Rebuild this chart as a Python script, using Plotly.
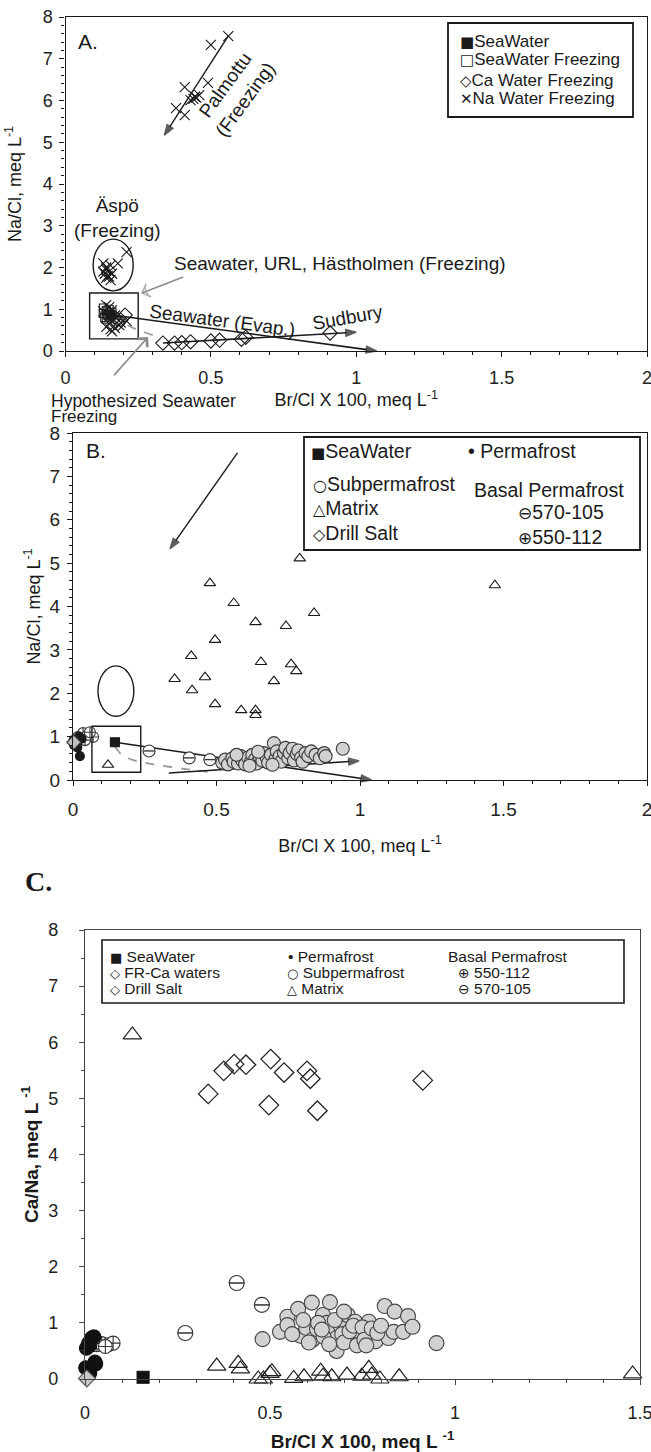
import plotly.graph_objects as go

W, H = 651, 1452
FONT = "Liberation Sans, Arial, Helvetica, sans-serif"
INK = "#1a1a1a"
GRAYFILL = "#d2d2d2"

# ---------------- Panel A : Na/Cl vs Br/Cl (freezing data) ----------------
A_seawater_x = [0.155]
A_seawater_y = [0.87]
A_swfreeze_x = [0.13, 0.14, 0.15, 0.135, 0.145, 0.16, 0.14, 0.15, 0.13]
A_swfreeze_y = [0.90, 0.97, 1.00, 0.80, 0.86, 0.93, 0.76, 0.82, 1.03]
A_cafreeze_x = [0.17, 0.19, 0.205, 0.18, 0.335, 0.375, 0.40, 0.43, 0.50, 0.53, 0.605, 0.62, 0.91]
A_cafreeze_y = [0.80, 0.74, 0.86, 0.66, 0.19, 0.19, 0.20, 0.22, 0.24, 0.26, 0.28, 0.33, 0.43]
A_napalm_x = [0.56, 0.50, 0.41, 0.49, 0.445, 0.43, 0.45, 0.46, 0.38, 0.41, 0.44]
A_napalm_y = [7.54, 7.33, 6.32, 6.42, 6.09, 6.01, 6.07, 6.13, 5.82, 5.65, 6.04]
A_naaspo_x = [0.21, 0.18, 0.155, 0.13, 0.14, 0.15, 0.135, 0.145, 0.14, 0.15, 0.13, 0.16, 0.14, 0.155]
A_naaspo_y = [2.37, 2.10, 2.05, 2.10, 1.95, 1.90, 1.85, 1.80, 1.75, 1.78, 1.90, 1.85, 2.00, 1.70]
A_nabox_x = [0.14, 0.15, 0.16, 0.13, 0.17, 0.16, 0.15, 0.14, 0.155, 0.16, 0.17, 0.185, 0.21, 0.19]
A_nabox_y = [1.10, 1.05, 0.98, 0.95, 0.85, 0.72, 0.65, 0.58, 0.52, 0.47, 0.55, 0.62, 0.72, 0.68]
A_hyp_x = [0.16, 0.19, 0.25, 0.325]
A_hyp_y = [0.83, 0.70, 0.50, 0.33]

# ---------------- Panel B : Na/Cl vs Br/Cl (site data) ----------------
B_seawater_x = [0.146]
B_seawater_y = [0.87]
B_perm_x = [0.024, 0.002, 0.010, 0.020, 0.030, 0.004, 0.015]
B_perm_y = [0.55, 0.92, 0.84, 1.00, 0.95, 0.80, 0.75]
B_sub_x = [0.52, 0.53, 0.54, 0.555, 0.56, 0.575, 0.585, 0.59, 0.60, 0.61, 0.62, 0.625, 0.635, 0.64,
           0.65, 0.66, 0.665, 0.675, 0.68, 0.69, 0.70, 0.705, 0.71, 0.72, 0.725, 0.735, 0.74, 0.75,
           0.755, 0.765, 0.77, 0.78, 0.785, 0.795, 0.80, 0.81, 0.82, 0.83, 0.845, 0.86, 0.875, 0.88,
           0.94, 0.57, 0.615, 0.645, 0.695]
B_sub_y = [0.40, 0.47, 0.36, 0.50, 0.42, 0.38, 0.55, 0.45, 0.36, 0.52, 0.42, 0.58, 0.48, 0.38,
           0.55, 0.45, 0.62, 0.52, 0.40, 0.58, 0.85, 0.48, 0.66, 0.55, 0.42, 0.62, 0.74, 0.50,
           0.62, 0.72, 0.45, 0.60, 0.68, 0.52, 0.42, 0.62, 0.55, 0.66, 0.58, 0.50, 0.62, 0.55,
           0.72, 0.58, 0.33, 0.65, 0.35]
B_b570_x = [0.265, 0.405, 0.477]
B_b570_y = [0.67, 0.51, 0.47]
B_b550_x = [0.035, 0.052, 0.070, 0.042, 0.017, 0.059]
B_b550_y = [1.08, 1.04, 0.99, 0.92, 0.99, 1.10]
B_drill_x = [0.003]
B_drill_y = [0.87]
B_matrix_x = [0.79, 0.477, 0.56, 1.47, 0.84, 0.636, 0.742, 0.495, 0.412, 0.655, 0.76, 0.778,
              0.354, 0.46, 0.70, 0.415, 0.495, 0.586, 0.636, 0.636, 0.122]
B_matrix_y = [5.11, 4.54, 4.08, 4.49, 3.85, 3.64, 3.55, 3.23, 2.86, 2.72, 2.67, 2.51,
              2.33, 2.37, 2.28, 2.07, 1.75, 1.61, 1.61, 1.50, 0.35]
B_hyp_x = [0.146, 0.17, 0.21, 0.27, 0.34, 0.42, 0.49]
B_hyp_y = [0.77, 0.58, 0.46, 0.37, 0.30, 0.23, 0.17]

# ---------------- Panel C : Ca/Na vs Br/Cl ----------------
C_seawater_x = [0.157]
C_seawater_y = [0.03]
C_frca_x = [0.333, 0.375, 0.403, 0.435, 0.502, 0.497, 0.538, 0.600, 0.609, 0.628, 0.913]
C_frca_y = [5.08, 5.49, 5.61, 5.60, 5.70, 4.88, 5.46, 5.49, 5.35, 4.78, 5.32]
C_drill_x = [0.005]
C_drill_y = [0.01]
C_perm_x = [0.018, 0.010, 0.004, 0.024, 0.013, 0.027, 0.002, 0.013, 0.029]
C_perm_y = [0.73, 0.64, 0.55, 0.75, 0.60, 0.30, 0.20, 0.11, 0.27]
C_sub_x = [0.480, 0.527, 0.547, 0.547, 0.576, 0.583, 0.598, 0.613, 0.615, 0.627, 0.643, 0.654,
           0.662, 0.668, 0.680, 0.680, 0.690, 0.705, 0.710, 0.720, 0.730, 0.745, 0.767, 0.767,
           0.785, 0.810, 0.820, 0.834, 0.837, 0.860, 0.873, 0.885, 0.950, 0.560, 0.590, 0.605,
           0.630, 0.645, 0.660, 0.675, 0.695, 0.700, 0.715, 0.725, 0.735, 0.750, 0.755, 0.775,
           0.790, 0.800, 0.760, 0.640, 0.700]
C_sub_y = [0.71, 0.84, 1.11, 0.96, 1.25, 0.77, 0.91, 1.36, 0.70, 0.89, 1.14, 1.00,
           1.37, 0.86, 0.73, 0.50, 0.96, 0.91, 1.14, 0.70, 1.02, 0.80, 1.02, 0.85,
           0.67, 1.30, 0.73, 0.84, 1.20, 0.84, 1.12, 0.93, 0.64, 0.80, 1.05, 0.65,
           1.00, 0.75, 0.62, 1.05, 0.80, 0.65, 0.85, 0.95, 0.60, 0.92, 0.70, 0.90,
           0.82, 0.95, 0.60, 0.88, 1.20]
C_b550_x = [0.032, 0.045, 0.063, 0.076, 0.055]
C_b550_y = [0.61, 0.63, 0.61, 0.64, 0.58]
C_b570_x = [0.271, 0.410, 0.478]
C_b570_y = [0.82, 1.71, 1.32]
C_matrix_x = [0.128, 0.356, 0.414, 0.420, 0.468, 0.482, 0.500, 0.505, 0.564, 0.592, 0.637, 0.643,
              0.667, 0.708, 0.748, 0.767, 0.775, 0.797, 0.849, 1.480]
C_matrix_y = [6.13, 0.23, 0.28, 0.18, 0.00, 0.00, 0.10, 0.13, 0.01, 0.04, 0.14, 0.05,
              0.04, 0.07, 0.05, 0.19, 0.07, 0.00, 0.04, 0.09]

# trend arrows: [tail x, head x], [tail y, head y]
A_evap_x, A_evap_y = [0.155, 1.07], [0.87, 0.0]
A_sud_x, A_sud_y = [0.335, 1.0], [0.19, 0.45]
A_palm_x, A_palm_y = [0.56, 0.34], [7.55, 5.17]
A_ptr_x, A_ptr_y = [0.405, 0.263], [1.77, 1.39]
B_evap_x, B_evap_y = [0.146, 1.04], [0.87, 0.0]
B_sud_x, B_sud_y = [0.334, 0.997], [0.16, 0.44]
B_frz_x, B_frz_y = [0.573, 0.338], [7.54, 5.33]

fig = go.Figure()


def sfx(ax):
    return '' if ax == 1 else str(ax)


def sc(x, y, ax, symbol, size, color=INK, fill=None, lw=1.1, name=None):
    s = sfx(ax)
    fig.add_trace(go.Scatter(
        x=x, y=y, mode='markers', xaxis='x' + s, yaxis='y' + s, name=name, showlegend=False,
        cliponaxis=False, hoverinfo='skip',
        marker=dict(symbol=symbol, size=size, color=fill if fill else color,
                    line=dict(color=color, width=lw))))


def dashed(x, y, ax):
    s = sfx(ax)
    fig.add_trace(go.Scatter(x=x, y=y, mode='lines', xaxis='x' + s, yaxis='y' + s, showlegend=False,
                             hoverinfo='skip', line=dict(color='#9a9a9a', width=1.8, dash='dash', shape='spline')))


def arrow(x, y, ax, color=INK, width=1.6, head=11, sym='arrow'):
    s = sfx(ax)
    fig.add_trace(go.Scatter(x=x, y=y, mode='lines+markers', xaxis='x' + s, yaxis='y' + s, showlegend=False,
                             hoverinfo='skip', cliponaxis=False, line=dict(color=color, width=width),
                             marker=dict(symbol=sym, size=[0, head], angleref='previous', color=color,
                                         line=dict(color=color, width=1.4))))


# Panel A marks
dashed(A_hyp_x, A_hyp_y, 1)
arrow(A_palm_x, A_palm_y, 1, width=1.4)
arrow(A_evap_x, A_evap_y, 1)
arrow(A_sud_x, A_sud_y, 1)
arrow(A_ptr_x, A_ptr_y, 1, color='#8c8c8c', width=1.6, head=10, sym='arrow-wide-open')
sc(A_naaspo_x, A_naaspo_y, 1, 'x-thin-open', 10, name='Na Water Freezing')
sc(A_napalm_x, A_napalm_y, 1, 'x-thin-open', 10, name='Na Water Freezing')
sc(A_nabox_x, A_nabox_y, 1, 'x-thin-open', 10, name='Na Water Freezing')
sc(A_swfreeze_x, A_swfreeze_y, 1, 'square-open', 8, name='SeaWater Freezing')
sc(A_cafreeze_x, A_cafreeze_y, 1, 'diamond-open', 11, name='Ca Water Freezing')
sc(A_seawater_x, A_seawater_y, 1, 'square', 9, name='SeaWater')

# Panel B marks
dashed(B_hyp_x, B_hyp_y, 2)
arrow(B_frz_x, B_frz_y, 2, width=1.4)
arrow(B_evap_x, B_evap_y, 2)
arrow(B_sud_x, B_sud_y, 2)
sc(B_matrix_x, B_matrix_y, 2, 'triangle-up-open', 10, name='Matrix')
sc(B_sub_x, B_sub_y, 2, 'circle', 13, color='#3a3a3a', fill=GRAYFILL, name='Subpermafrost')
sc(B_b570_x, B_b570_y, 2, 'circle', 12, color='#3a3a3a', fill='white', name='570-105')
sc(B_b570_x, B_b570_y, 2, 'line-ew', 8, color='#3a3a3a', lw=1.4, name='570-105')
sc(B_b550_x, B_b550_y, 2, 'circle-cross', 11, color='#3a3a3a', fill='white', name='550-112')
sc(B_perm_x, B_perm_y, 2, 'circle', 9, name='Permafrost')
sc(B_drill_x, B_drill_y, 2, 'diamond', 11, color='#3a3a3a', fill='#bdbdbd', name='Drill Salt')
sc(B_seawater_x, B_seawater_y, 2, 'square', 9, name='SeaWater')

# Panel C marks
sc(C_matrix_x, C_matrix_y, 3, 'triangle-up-open', 16, color='#222', lw=1.2, name='Matrix')
sc(C_frca_x, C_frca_y, 3, 'diamond-open', 15, color='#222', lw=1.3, name='FR-Ca waters')
sc(C_sub_x, C_sub_y, 3, 'circle', 15, color='#444', fill=GRAYFILL, name='Subpermafrost')
sc(C_b570_x, C_b570_y, 3, 'circle', 15, color='#333', fill='white', name='570-105')
sc(C_b570_x, C_b570_y, 3, 'line-ew', 11, color='#333', lw=1.5, name='570-105')
sc(C_b550_x, C_b550_y, 3, 'circle-cross', 14, color='#333', fill='white', name='550-112')
sc(C_perm_x, C_perm_y, 3, 'circle', 14, color='#111', name='Permafrost')
sc(C_drill_x, C_drill_y, 3, 'diamond', 13, color='#555', fill='#c8c8c8', name='Drill Salt')
sc(C_seawater_x, C_seawater_y, 3, 'square', 12, color='#111', name='SeaWater')

ann = []
shapes = []


def sym(ch, size=None):
    st = 'font-family:DejaVu Sans'
    if size:
        st += ';font-size:%gpx' % size
    return '<span style="' + st + '">' + ch + '</span>'


def pxann(text, x, y, size, xanchor='left', yanchor='middle', bold=False, family=FONT, color=INK):
    if bold:
        text = '<b>' + text + '</b>'
    ann.append(dict(text=text, x=x / W, y=1 - y / H, xref='paper', yref='paper', showarrow=False,
                    xanchor=xanchor, yanchor=yanchor, font=dict(size=size, family=family, color=color)))


def dann(text, x, y, ax, size, angle=0):
    s = sfx(ax)
    ann.append(dict(text=text, x=x, y=y, xref='x' + s, yref='y' + s, showarrow=False, textangle=angle,
                    font=dict(size=size, family=FONT, color=INK)))


def pxrect(x0, y0, x1, y1, w=1.5):
    shapes.append(dict(type='rect', xref='paper', yref='paper', x0=x0 / W, x1=x1 / W,
                       y0=1 - y1 / H, y1=1 - y0 / H, line=dict(color=INK, width=w)))


def drect(kind, x0, x1, y0, y1, ax, w=1.4):
    s = sfx(ax)
    shapes.append(dict(type=kind, xref='x' + s, yref='y' + s, x0=x0, x1=x1, y0=y0, y1=y1,
                       line=dict(color=INK, width=w)))


# ---- Panel A annotations ----
pxann('A.', 76, 41, 21)
dann('Palmottu<br>(Freezing)', 0.585, 6.2, 1, 19, angle=-54)
dann('Äspö<br>(Freezing)', 0.18, 3.18, 1, 19)
dann('Seawater, URL, Hästholmen (Freezing)', 0.944, 2.1, 1, 19)
dann('Seawater (Evap.)', 0.54, 0.74, 1, 19, angle=7.6)
dann('Sudbury', 0.97, 0.80, 1, 19, angle=-10)
drect('rect', 0.083, 0.25, 0.29, 1.39, 1)
drect('circle', 0.095, 0.233, 1.44, 2.68, 1)
# pointer from the "Hypothesized Seawater Freezing" caption into panel A
ann.append(dict(text='', x=0.284, y=0.335, ax=0.162, ay=-0.62, xref='x', yref='y', axref='x', ayref='y',
                showarrow=True, arrowhead=4, arrowsize=1.5, arrowwidth=1.6, arrowcolor='#8c8c8c'))
pxann('Hypothesized Seawater', 49, 401, 17.5)
pxann('Freezing', 49, 416, 17)
pxrect(448, 23, 633, 117, 1.8)
pxann(sym('■', 15) + 'SeaWater', 458, 41, 17)
pxann(sym('□', 15) + 'SeaWater Freezing', 458, 60, 17)
pxann(sym('◇', 15) + 'Ca Water Freezing', 458, 80, 17)
pxann(sym('✕', 15) + 'Na Water Freezing', 458, 99, 17)

# ---- Panel B annotations ----
pxann('B.', 84, 451, 21)
drect('rect', 0.066, 0.236, 0.18, 1.24, 2)
drect('circle', 0.087, 0.212, 1.47, 2.63, 2)
pxrect(304, 437, 640, 550, 1.8)
pxann(sym('■', 15) + 'SeaWater', 309, 451, 19.5)
pxann('• Permafrost', 466, 451, 19.5)
pxann(sym('○', 16) + 'Subpermafrost', 311, 484, 19.5)
pxann('Basal Permafrost', 472, 490, 19.5)
pxann(sym('⊖', 17) + '570-105', 516, 512, 19.5)
pxann(sym('△', 16) + 'Matrix', 311, 508, 19.5)
pxann(sym('◇', 16) + 'Drill Salt', 311, 533, 19.5)
pxann(sym('⊕', 17) + '550-112', 516, 537, 19.5)

# ---- Panel C annotations ----
pxann('C.', 23, 881, 28, bold=True, family='Liberation Serif, Times New Roman, serif')
pxrect(102, 940, 624, 1003, 1.6)
pxann(sym('■', 13) + ' SeaWater', 108, 956, 15.5)
pxann(sym('◇', 13) + ' FR-Ca waters', 108, 972, 15.5)
pxann(sym('◇', 13) + ' Drill Salt', 108, 988, 15.5)
pxann('• Permafrost', 286, 956, 15.5)
pxann(sym('○', 13) + ' Subpermafrost', 285, 972, 15.5)
pxann(sym('△', 13) + ' Matrix', 285, 988, 15.5)
pxann('Basal Permafrost', 446, 956, 15.5)
pxann(sym('⊕', 14) + ' 550-112', 456, 972, 15.5)
pxann(sym('⊖', 14) + ' 570-105', 456, 988, 15.5)


def axstyle(lc, fs, **kw):
    d = dict(showline=True, linecolor=lc, linewidth=1.3, mirror=True, ticks='outside', ticklen=5,
             tickwidth=1.2, tickcolor=lc, showgrid=False, zeroline=False, ticklabeloverflow='allow',
             automargin=False, tickfont=dict(size=fs, family=FONT, color='#222'))
    d.update(kw)
    return d


def minor(dt, lc):
    return dict(dtick=dt, ticks='outside', ticklen=3, tickwidth=1, tickcolor=lc, showgrid=False)


fig.update_layout(
    width=W, height=H, margin=dict(l=0, r=0, t=0, b=0, autoexpand=False),
    paper_bgcolor='white', plot_bgcolor='white', showlegend=False,
    font=dict(family=FONT, color=INK),
    xaxis=axstyle(INK, 18, domain=[65.5 / W, 647 / W], range=[0, 2], anchor='y', dtick=0.5,
                  minor=minor(0.1, INK), ticklabelstandoff=5,
                  title=dict(text='Br/Cl X 100, meq L<sup>-1</sup>', font=dict(size=18), standoff=4)),
    yaxis=axstyle(INK, 18, domain=[1 - 351 / H, 1 - 17 / H], range=[0, 8], anchor='x', dtick=1,
                  minor=minor(0.2, INK), ticklabelstandoff=3,
                  title=dict(text='Na/Cl, meq L<sup>-1</sup>', font=dict(size=18), standoff=16)),
    xaxis2=axstyle(INK, 19, domain=[73 / W, 647 / W], range=[0, 2], anchor='y2', dtick=0.5,
                   minor=minor(0.1, INK), ticklabelstandoff=7,
                   title=dict(text='Br/Cl X 100, meq L<sup>-1</sup>', font=dict(size=18), standoff=20)),
    yaxis2=axstyle(INK, 19, domain=[1 - 780 / H, 1 - 433 / H], range=[0, 8], anchor='x2', dtick=1,
                   minor=minor(0.2, INK), ticklabelstandoff=3,
                   title=dict(text='Na/Cl, meq L<sup>-1</sup>', font=dict(size=18), standoff=4)),
    xaxis3=axstyle('#444', 18, domain=[85 / W, 640 / W], range=[0, 1.5], anchor='y3', dtick=0.5,
                   minor=minor(0.1, '#444'), ticklabelstandoff=12,
                   title=dict(text='<b>Br/Cl X 100, meq L <sup>-1</sup></b>', font=dict(size=19), standoff=22)),
    yaxis3=axstyle('#444', 18, domain=[1 - 1379 / H, 1 - 930 / H], range=[0, 8], anchor='x3', dtick=1,
                   minor=minor(0.5, '#444'), ticklabelstandoff=17,
                   title=dict(text='<b>Ca/Na, meq L <sup>-1</sup></b>', font=dict(size=19), standoff=4)),
    annotations=ann, shapes=shapes,
)

fig.write_html('out.html')
